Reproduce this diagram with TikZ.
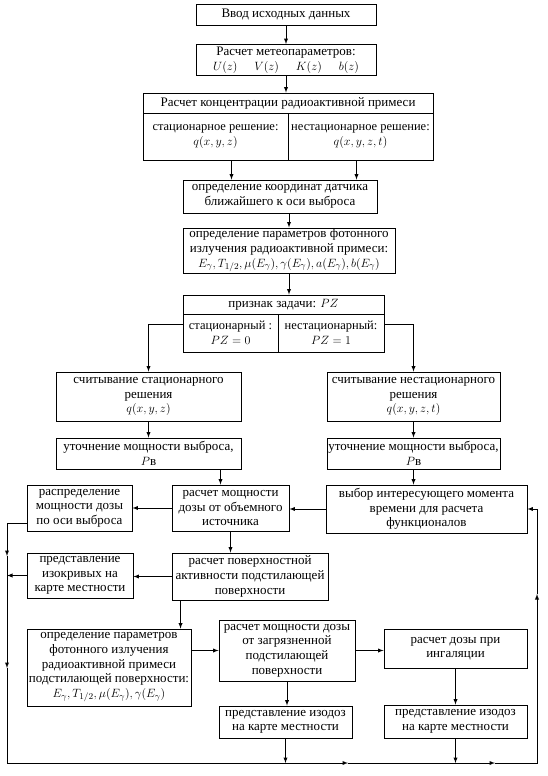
\documentclass[tikz,border=0pt]{standalone}
\usepackage{fontspec}
\setmainfont{Liberation Serif}
\usepackage{tikz}
\usetikzlibrary{arrows}
\usepackage{amssymb,amsmath}

\begin{document}
\begin{tikzpicture}[>=latex,x=1pt,y=-1pt,line width=0.9pt,
    block/.style={draw,align=center,inner sep=1pt,font=\fontsize{13}{14.6}\selectfont},
    cell/.style={block,inner xsep=0pt,font=\fontsize{12.5}{14.6}\selectfont},
    sz/.style 2 args={minimum width=#1pt,minimum height=#2pt}]
    \useasboundingbox (0,0) rectangle (548,776);
    \node[block,sz={180}{21}] (in) at (286,15) {Ввод исходных данных};
    \node[block,sz={180}{31}] (meteo) at (286,60) {Расчет метеопараметров:\\ $U(z)$\hspace{1.3em}$V(z)$\hspace{1.3em}$K(z)$\hspace{1.3em}$b(z)$};
    \node[block,sz={290}{20}] (conc) at (288,103) {Расчет концентрации радиоактивной примеси};
    \node[cell,sz={145}{47}] (st) at (215.5,136.5) {стационарное решение:\\ $q(x,y,z)$};
    \node[cell,sz={145}{47}] (nst) at (360.5,136.5) {нестационарное решение:\\ $q(x,y,z,t)$};
    \node[block,sz={194}{33}] (kd) at (280,196.5) {определение координат датчика\\ ближайшего к оси выброса};
    \node[block,sz={212}{45}] (fot) at (289,250.5) {определение параметров фотонного\\ излучения радиоактивной примеси:\\ $E_\gamma, T_{1/2}, \mu(E_\gamma), \gamma(E_\gamma), a(E_\gamma), b(E_\gamma)$};
    \node[block,sz={201}{19}] (pz) at (283.5,304.5) {признак задачи: $PZ$};
    \node[cell,sz={95}{38}] (pz0) at (230.5,333) {стационарный :\\ $PZ=0$};
    \node[cell,sz={106}{38}] (pz1) at (331,333) {нестационарный:\\ $PZ=1$};
    \node[block,sz={185}{49}] (cst) at (148.5,396.5) {считывание стационарного\\ решения\\ $q(x,y,z)$};
    \node[block,sz={173}{49}] (cnst) at (413.5,396.5) {считывание нестационарного\\ решения\\ $q(x,y,z,t)$};
    \node[block,sz={185}{31}] (ust) at (148.5,453.5) {уточнение мощности выброса,\\ $P$в};
    \node[block,sz={173}{31}] (unst) at (413.5,453.5) {уточнение мощности выброса,\\ $P$в};
    \node[block,sz={105}{46}] (rasp) at (79.5,508) {распределение\\ мощности дозы\\ по оси выброса};
    \node[block,sz={117}{46}] (ob) at (230.5,508) {расчет мощности\\ дозы от объемного\\ источника};
    \node[block,sz={201}{48}] (vyb) at (426.5,509) {выбор интересующего момента\\ времени для расчета\\ функционалов};
    \node[block,sz={106}{45}] (izo) at (80,575.5) {представление\\ изокривых на\\ карте местности};
    \node[block,sz={156}{47}] (pov) at (250,576.5) {расчет поверхностной\\ активности подстилающей\\ поверхности};
    \node[block,sz={164}{77}] (opr) at (109,667.5) {определение параметров\\ фотонного излучения\\ радиоактивной примеси\\ подстилающей поверхности:\\ $E_\gamma, T_{1/2}, \mu(E_\gamma), \gamma(E_\gamma)$};
    \node[block,sz={136}{61}] (zag) at (287,650.5) {расчет мощности дозы\\ от загрязненной\\ подстилающей\\ поверхности};
    \node[block,sz={143}{39}] (ing) at (455.5,648.5) {расчет дозы при\\ ингаляции};
    \node[block,sz={133}{32}] (iz1) at (285.5,722) {представление изодоз\\ на карте местности};
    \node[block,sz={143}{33}] (iz2) at (455.5,721.5) {представление изодоз\\ на карте местности};
    \coordinate (la) at (7,556);
    \coordinate (lb) at (7,668);
    \coordinate (bl) at (7,763);
    \coordinate (ba) at (348,763);
    \coordinate (bb) at (495,763);
    \coordinate (ra) at (537,594);
    \path[->] (in) edge (meteo);
    \draw[->] (meteo.south) -- (meteo.south |- conc.north);
    \draw[->] ([xshift=16pt]st.south) -- ([xshift=16pt]st.south |- kd.north);
    \draw[->] ([xshift=-4pt]nst.south) -- ([xshift=-4pt]nst.south |- kd.north);
    \draw[->] (fot.north |- kd.south) -- (fot.north);
    \draw[->] (fot.south) -- (fot.south |- pz.north);
    \draw[->] ([yshift=9pt]pz0.west) -| (cst.north);
    \draw[->] ([yshift=9pt]pz1.east) -| (cnst.north);
    \path[->] (cst) edge (ust);
    \path[->] (cnst) edge (unst);
    \draw[->] ([xshift=-10pt]ob.north |- ust.south) -- ([xshift=-10pt]ob.north);
    \draw[->] (unst.south) -- (unst.south |- vyb.north);
    \draw[->] (vyb.west) -- (vyb.west -| ob.east);
    \draw[->] (ob.west) -- (ob.west -| rasp.east);
    \draw[->] ([yshift=-15pt]rasp.west) -| (la);
    \draw[->] (la) -- (lb);
    \draw[->] (lb) |- (ba);
    \draw[->] (ba) -- (bb);
    \draw[->] (bb) -| (ra);
    \draw[->] (ra) |- (vyb.east);
    \draw[->] (ob.south) -- (ob.south |- pov.north);
    \draw[->] (pov.west) -- (pov.west -| izo.east);
    \draw[->] (izo.west) -- (izo.west -| la);
    \draw[->] ([xshift=9pt]pov.south west) -- ([xshift=9pt]pov.south west |- opr.north);
    \draw[->] (opr.east |- zag.west) -- (zag.west);
    \draw[->] (zag.east) -- (zag.east -| ing.west);
    \draw[->] (zag.south) -- (zag.south |- iz1.north);
    \draw[->] (ing.south) -- (ing.south |- iz2.north);
    \draw[->] (iz1.south) -- (iz1.south |- bl);
    \draw[->] (iz2.south) -- (iz2.south |- bl);
\end{tikzpicture}
\end{document}
